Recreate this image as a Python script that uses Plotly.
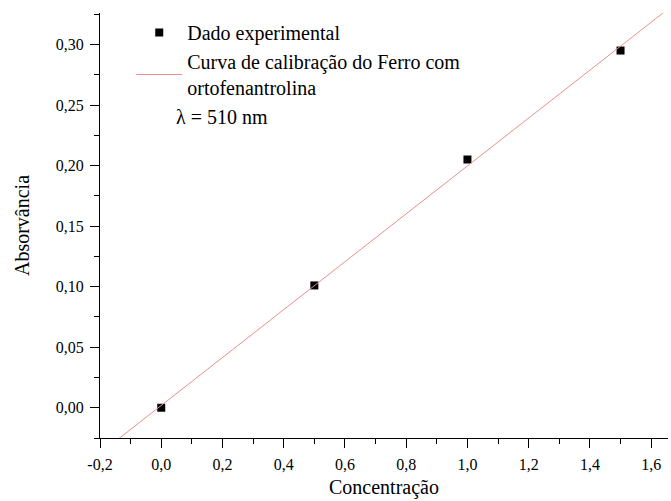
import numpy as np
import plotly.graph_objects as go

conc = [0.0, 0.5, 1.0, 1.5]
absorb = [0.0, 0.101, 0.205, 0.295]
x_ticks = [-0.2, 0.0, 0.2, 0.4, 0.6, 0.8, 1.0, 1.2, 1.4, 1.6]
y_ticks = [0.0, 0.05, 0.10, 0.15, 0.20, 0.25, 0.30]
x_range = [-0.2, 1.655]
y_range = [-0.025, 0.326]

x_ticktext = [f"{v:.1f}".replace(".", ",") for v in x_ticks]
y_ticktext = [f"{v:.2f}".replace(".", ",") for v in y_ticks]

slope, intercept = np.polyfit(conc, absorb, 1)
line_x = np.array(x_range)
line_y = slope * line_x + intercept

FONT = "Liberation Serif"

fig = go.Figure()
fig.add_trace(go.Scatter(
    x=conc, y=absorb, mode="markers", name="Dado experimental",
    marker=dict(symbol="square", size=8, color="black"),
))
fig.add_trace(go.Scatter(
    x=line_x, y=line_y, mode="lines",
    name="Curva de calibração do Ferro com<br>ortofenantrolina",
    line=dict(color="#e8908c", width=1),
))

fig.add_annotation(
    xref="paper", yref="paper", x=0.131, y=0.755, xanchor="left", yanchor="middle",
    text="λ = 510 nm", showarrow=False, font=dict(family=FONT, size=20, color="black"),
)

axis_common = dict(
    showgrid=False, zeroline=False, showline=True, linecolor="black", linewidth=1,
    ticks="outside", ticklen=9, tickwidth=1, tickcolor="black",
    tickfont=dict(family=FONT, size=16, color="black"),
    ticklabelstandoff=3,
    mirror=False, automargin=False,
)

fig.update_layout(
    width=671, height=501,
    margin=dict(l=100, r=3, t=13, b=63),
    paper_bgcolor="white", plot_bgcolor="white",
    separators=", ",
    font=dict(family=FONT, color="black"),
    xaxis=dict(
        **axis_common, range=x_range, tickvals=x_ticks, ticktext=x_ticktext,
        title=dict(text="Concentração", font=dict(family=FONT, size=20), standoff=7),
        minor=dict(ticks="outside", ticklen=5, dtick=0.1, tick0=0, tickcolor="black"),
    ),
    yaxis=dict(
        **axis_common, range=y_range, tickvals=y_ticks, ticktext=y_ticktext,
        title=dict(text="Absorvância", font=dict(family=FONT, size=20), standoff=20),
        minor=dict(ticks="outside", ticklen=5, dtick=0.025, tick0=0, tickcolor="black"),
    ),
    legend=dict(
        x=0.055, y=1.0, xanchor="left", yanchor="top",
        bgcolor="rgba(0,0,0,0)", font=dict(family=FONT, size=20, color="black"),
        tracegroupgap=0, itemwidth=46,
    ),
)

fig.write_html("out.html")
